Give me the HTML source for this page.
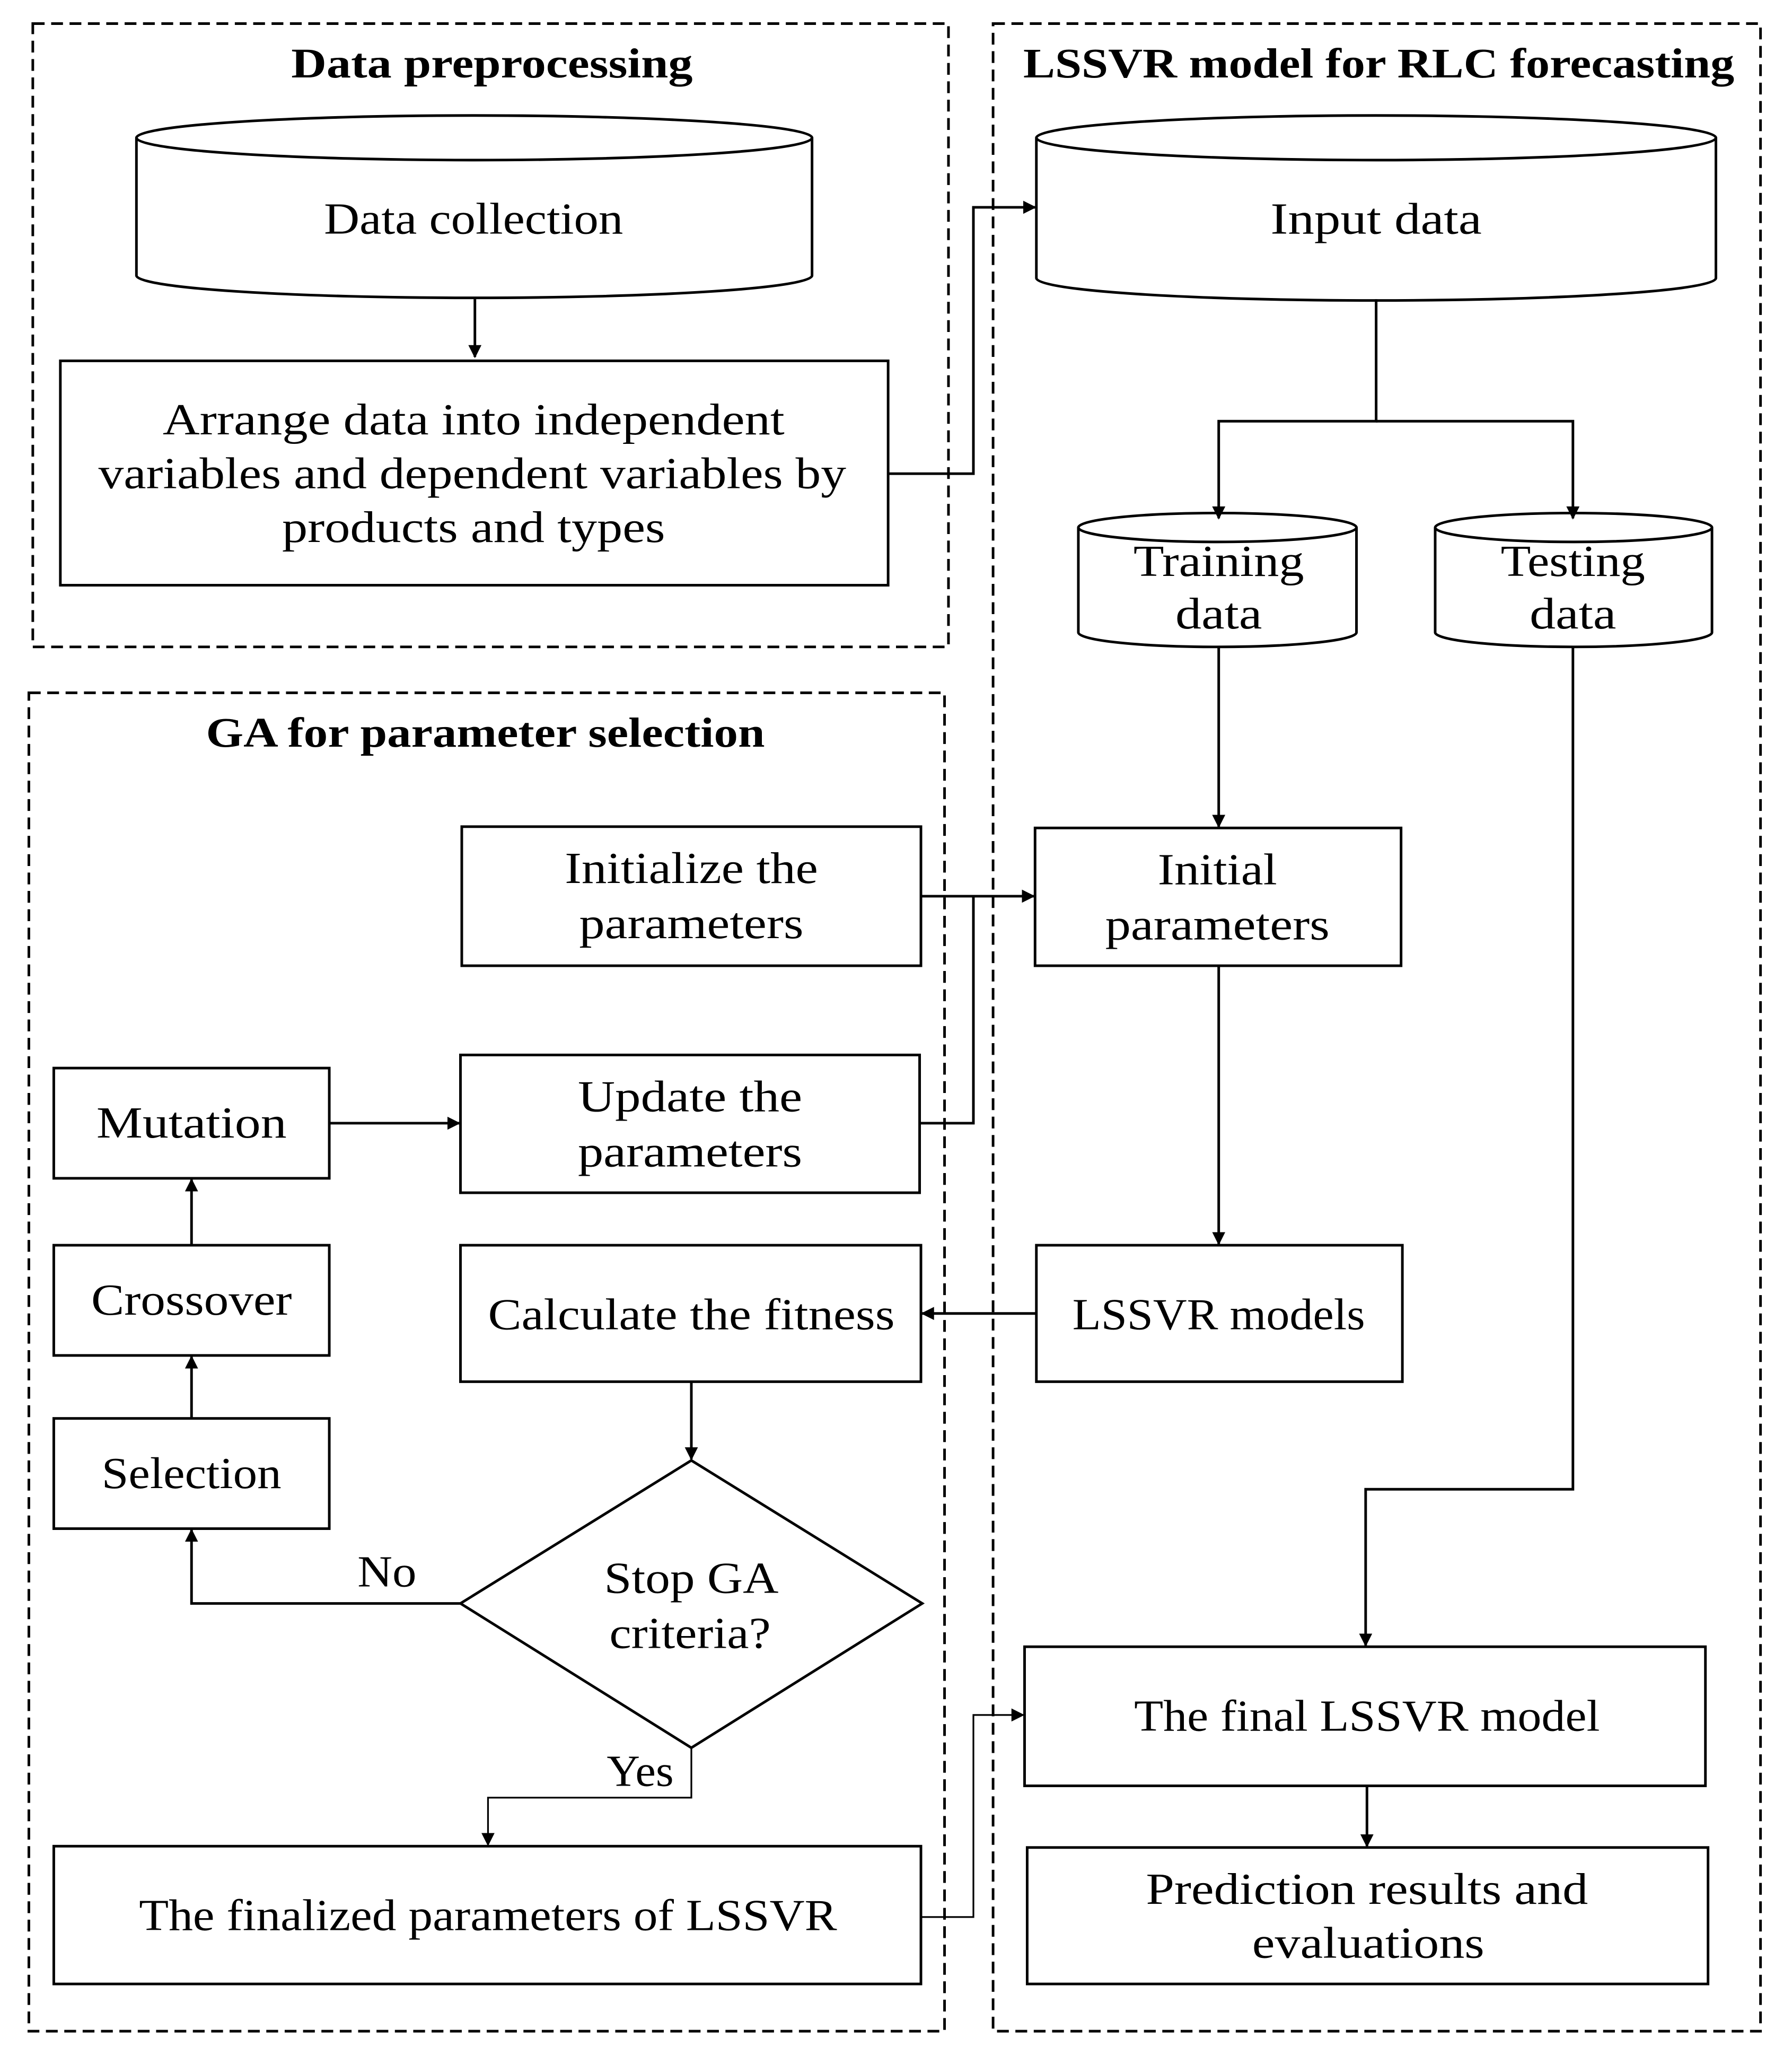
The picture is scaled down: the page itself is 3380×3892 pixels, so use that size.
<!DOCTYPE html>
<html><head><meta charset="utf-8"><style>
html,body{margin:0;padding:0;background:#fff}
svg{display:block}
text{font-family:"Liberation Serif",serif;font-size:34px;fill:#000;text-anchor:middle}
.t{font-weight:bold;font-size:32px}
</style></head><body>
<svg width="3380" height="3892" viewBox="0 0 1366 1573" preserveAspectRatio="none" xmlns="http://www.w3.org/2000/svg">
<defs><marker id="a" markerWidth="10" markerHeight="10" refX="9" refY="5" orient="auto" markerUnits="userSpaceOnUse"><path d="M0,0 L10,5 L0,10 z" fill="#000"/></marker></defs>
<g fill="none" stroke="#000" stroke-width="2" stroke-dasharray="9,5">
<rect x="25" y="18" width="698" height="475"/>
<rect x="757" y="18" width="585" height="1530"/>
<rect x="22" y="528" width="698" height="1020"/>
</g>
<g lengthAdjust="spacingAndGlyphs">
<text class="t" x="375" y="59" textLength="306" lengthAdjust="spacingAndGlyphs">Data preprocessing</text>
<text class="t" x="1051" y="59" textLength="542" lengthAdjust="spacingAndGlyphs">LSSVR model for RLC forecasting</text>
<text class="t" x="370" y="569" textLength="426" lengthAdjust="spacingAndGlyphs">GA for parameter selection</text>
</g>
<g fill="#fff" stroke="#000" stroke-width="2">
<path d="M104,105 L104,210 A257.5,17 0 0 0 619,210 L619,105"/>
<ellipse cx="361.5" cy="105" rx="257.5" ry="17"/>
<path d="M790,105 L790,212 A259,17 0 0 0 1308,212 L1308,105"/>
<ellipse cx="1049" cy="105" rx="259" ry="17"/>
<path d="M822,402 L822,482 A106,11 0 0 0 1034,482 L1034,402"/>
<ellipse cx="928" cy="402" rx="106" ry="11"/>
<path d="M1094,402 L1094,482 A105.5,11 0 0 0 1305,482 L1305,402"/>
<ellipse cx="1199.5" cy="402" rx="105.5" ry="11"/>
<rect x="46" y="275" width="631" height="171"/>
<rect x="789" y="631" width="279" height="105"/>
<rect x="790" y="949" width="279" height="104"/>
<rect x="352" y="630" width="350" height="106"/>
<rect x="351" y="804" width="350" height="105"/>
<rect x="41" y="814" width="210" height="84"/>
<rect x="41" y="949" width="210" height="84"/>
<rect x="41" y="1081" width="210" height="84"/>
<rect x="351" y="949" width="351" height="104"/>
<path d="M527,1113 L703,1222 L527,1332 L351,1222 Z"/>
<rect x="41" y="1407" width="661" height="105"/>
<rect x="781" y="1255" width="519" height="106"/>
<rect x="783" y="1408" width="519" height="104"/>
</g>
<g fill="none" stroke="#000" stroke-width="2" marker-end="url(#a)">
<path d="M362,228 L362,272"/>
<path d="M677,361 L742,361 L742,158 L789,158"/>
<path d="M1049,228 L1049,321 L929,321 L929,395"/>
<path d="M1049,321 L1199,321 L1199,395"/>
<path d="M929,493 L929,630"/>
<path d="M1199,493 L1199,1135 L1041,1135 L1041,1254"/>
<path d="M929,736 L929,948"/>
<path d="M790,1001 L703,1001"/>
<path d="M702,683 L788,683"/>
<path d="M251,856 L350,856"/>
<path d="M146,949 L146,899"/>
<path d="M146,1081 L146,1034"/>
<path d="M527,1053 L527,1112"/>
<path d="M351,1222 L146,1222 L146,1166"/>
<path d="M1042,1361 L1042,1407"/>
</g>
<g fill="none" stroke="#000" stroke-width="1.3" marker-end="url(#a)">
<path d="M527,1332 L527,1370 L372,1370 L372,1406"/>
<path d="M702,1461 L742,1461 L742,1307 L780,1307"/>
</g>
<path d="M701,856 L742,856 L742,683" fill="none" stroke="#000" stroke-width="2"/>
<text x="361" y="178" textLength="228" lengthAdjust="spacingAndGlyphs">Data collection</text>
<text x="361" y="331" textLength="474" lengthAdjust="spacingAndGlyphs">Arrange data into independent</text>
<text x="360" y="372" textLength="570" lengthAdjust="spacingAndGlyphs">variables and dependent variables by</text>
<text x="361" y="413" textLength="292" lengthAdjust="spacingAndGlyphs">products and types</text>
<text x="1049" y="178" textLength="161" lengthAdjust="spacingAndGlyphs">Input data</text>
<text x="929" y="439" textLength="130" lengthAdjust="spacingAndGlyphs">Training</text>
<text x="929" y="479" textLength="66" lengthAdjust="spacingAndGlyphs">data</text>
<text x="1199" y="439" textLength="110" lengthAdjust="spacingAndGlyphs">Testing</text>
<text x="1199" y="479" textLength="66" lengthAdjust="spacingAndGlyphs">data</text>
<text x="928" y="674" textLength="91" lengthAdjust="spacingAndGlyphs">Initial</text>
<text x="928" y="716" textLength="171" lengthAdjust="spacingAndGlyphs">parameters</text>
<text x="929" y="1013" textLength="223" lengthAdjust="spacingAndGlyphs">LSSVR models</text>
<text x="527" y="673" textLength="193" lengthAdjust="spacingAndGlyphs">Initialize the</text>
<text x="527" y="715" textLength="171" lengthAdjust="spacingAndGlyphs">parameters</text>
<text x="526" y="847" textLength="171" lengthAdjust="spacingAndGlyphs">Update the</text>
<text x="526" y="889" textLength="171" lengthAdjust="spacingAndGlyphs">parameters</text>
<text x="146" y="867" textLength="145" lengthAdjust="spacingAndGlyphs">Mutation</text>
<text x="146" y="1002" textLength="153" lengthAdjust="spacingAndGlyphs">Crossover</text>
<text x="146" y="1134" textLength="137" lengthAdjust="spacingAndGlyphs">Selection</text>
<text x="527" y="1013" textLength="310" lengthAdjust="spacingAndGlyphs">Calculate the fitness</text>
<text x="527" y="1214" textLength="133" lengthAdjust="spacingAndGlyphs">Stop GA</text>
<text x="526" y="1256" textLength="123" lengthAdjust="spacingAndGlyphs">criteria?</text>
<text x="295" y="1209" textLength="45" lengthAdjust="spacingAndGlyphs">No</text>
<text x="488" y="1361" textLength="51" lengthAdjust="spacingAndGlyphs">Yes</text>
<text x="372" y="1471" textLength="532" lengthAdjust="spacingAndGlyphs">The finalized parameters of LSSVR</text>
<text x="1042" y="1319" textLength="355" lengthAdjust="spacingAndGlyphs">The final LSSVR model</text>
<text x="1042" y="1451" textLength="337" lengthAdjust="spacingAndGlyphs">Prediction results and</text>
<text x="1043" y="1492" textLength="177" lengthAdjust="spacingAndGlyphs">evaluations</text>
</svg>
</body></html>
